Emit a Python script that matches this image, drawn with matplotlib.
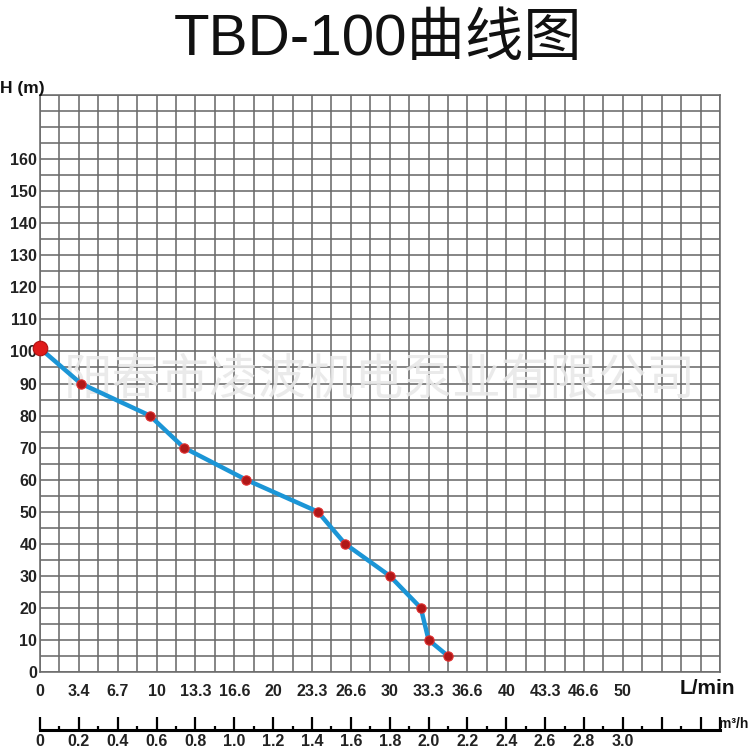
import numpy as np
import matplotlib as mpl
import matplotlib.pyplot as plt
from matplotlib.ticker import MultipleLocator

mpl.rcParams['font.family'] = ['Liberation Sans', 'Noto Sans CJK SC', 'DejaVu Sans']

# Flow in m3/h and head in m
flow_m3h = [0.0, 0.21, 0.565, 0.74, 1.06, 1.43, 1.57, 1.80, 1.96, 2.0, 2.1]
head_m = [101, 90, 80, 70, 60, 50, 40, 30, 20, 10, 5]

# Tick labels
lmin_pos = np.arange(0, 3.01, 0.2)
lmin_labels = ['0', '3.4', '6.7', '10', '13.3', '16.6', '20', '23.3', '26.6',
               '30', '33.3', '36.6', '40', '43.3', '46.6', '50']
m3h_labels = ['0', '0.2', '0.4', '0.6', '0.8', '1.0', '1.2', '1.4', '1.6',
              '1.8', '2.0', '2.2', '2.4', '2.6', '2.8', '3.0']
h_ticks = np.arange(0, 161, 10)

title = 'TBD-100曲线图'
watermark = '阳春市凌波机电泵业有限公司'

fig = plt.figure(figsize=(7.5, 7.5), dpi=100)

# main chart
ax = fig.add_axes([40/750, 1 - 672/750, 680/750, 577/750])
ax.set_xlim(0, 3.5)
ax.set_ylim(0, 180)
ax.set_xticks(lmin_pos)
ax.set_xticklabels(lmin_labels)
ax.xaxis.set_minor_locator(MultipleLocator(0.1))
ax.set_yticks(h_ticks)
ax.set_yticklabels([str(v) for v in h_ticks])
ax.yaxis.set_minor_locator(MultipleLocator(5))
ax.grid(True, which='both', color='#6a6a6a', linewidth=1.15)
ax.set_axisbelow(True)
for sp in ax.spines.values():
    sp.set_color('#6a6a6a')
    sp.set_linewidth(1.15)
ax.tick_params(which='both', length=0)
ax.tick_params(axis='x', pad=9, labelsize=11.5, labelcolor='#222222')
ax.tick_params(axis='y', pad=2, labelsize=11.5, labelcolor='#222222')
for lbl in ax.get_xticklabels() + ax.get_yticklabels():
    lbl.set_fontweight('bold')

ax.text(0.5, 0.5 - (380 - 383.5) / 577, watermark, transform=ax.transAxes,
        ha='center', va='center', fontsize=35, color='#e8e8e8', alpha=0.9,
        family=['Noto Sans CJK SC'], fontweight='light', zorder=3)

ax.plot(flow_m3h, head_m, color='#1b95d6', linewidth=3.2, zorder=4,
        solid_capstyle='round', solid_joinstyle='round')
ax.scatter(flow_m3h[1:], head_m[1:], s=45, color='#b01818',
           edgecolors='#e03030', linewidths=0.8, zorder=5, clip_on=False)
ax.scatter(flow_m3h[:1], head_m[:1], s=110, color='#e01a1a',
           edgecolors='#b01010', linewidths=0.8, zorder=5, clip_on=False)

# second flow scale in m3/h
ax2 = fig.add_axes([40/750, 1 - 730/750, 680/750, 0.02])
ax2.set_xlim(0, 3.5)
ax2.set_ylim(0, 1)
for name in ['top', 'left', 'right']:
    ax2.spines[name].set_visible(False)
ax2.spines['bottom'].set_linewidth(2.2)
ax2.set_yticks([])
ax2.set_xticks(np.append(np.arange(0, 3.41, 0.2), 3.5))
ax2.set_xticklabels(m3h_labels + [''] * 3)
ax2.xaxis.set_minor_locator(MultipleLocator(0.1))
ax2.tick_params(axis='x', which='major', direction='in', length=9.5,
                width=1.6, pad=3, labelsize=11.5, labelcolor='#222222')
ax2.tick_params(axis='x', which='minor', direction='in', length=3, width=1.6)
for lbl in ax2.get_xticklabels():
    lbl.set_fontweight('bold')
ax2.patch.set_alpha(0)

fig.text(378/750, 1 - 40/750, title, ha='center', va='center', fontsize=42,
         family=['Liberation Sans', 'Noto Sans CJK SC'], color='#111111')
fig.text(0, 1 - 89/750, 'H (m)', ha='left', va='center', fontsize=12.5,
         fontweight='bold', color='#111111')
fig.text(680/750, 1 - 689/750, 'L/min', ha='left', va='center', fontsize=15,
         fontweight='bold', color='#111111')
fig.text(748/750, 1 - 724/750, 'm³/h', ha='right', va='center', fontsize=10,
         fontweight='bold', color='#111111')

fig.savefig('out.png', dpi=100)
